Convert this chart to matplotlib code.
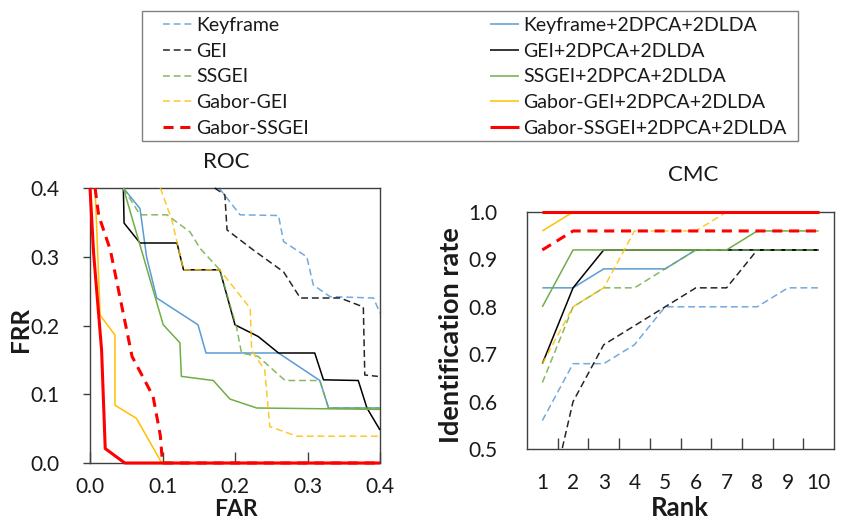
import matplotlib
matplotlib.use("Agg")
import matplotlib.pyplot as plt
from matplotlib.lines import Line2D
from matplotlib.patches import Rectangle

plt.rcParams['font.family'] = ['Lato', 'DejaVu Sans']

# series names (Excel order)
names_base = ['Keyframe', 'GEI', 'SSGEI', 'Gabor-GEI', 'Gabor-SSGEI']
names_full = [n + '+2DPCA+2DLDA' for n in names_base]
colors = ['#5B9BD5', '#000000', '#70AD47', '#FFC000', '#FF0000']

# ROC curves (FAR, FRR)
roc_far_base = [
    [0.178, 0.184, 0.207, 0.260, 0.267, 0.299, 0.308, 0.331, 0.391, 0.400],
    [0.172, 0.186, 0.189, 0.225, 0.267, 0.290, 0.345, 0.377, 0.379, 0.397],
    [0.046, 0.069, 0.106, 0.138, 0.152, 0.179, 0.202, 0.209, 0.232, 0.269, 0.317, 0.329, 0.400],
    [0.097, 0.113, 0.129, 0.179, 0.221, 0.223, 0.241, 0.248, 0.285, 0.400],
    [0.007, 0.012, 0.028, 0.058, 0.087, 0.097, 0.100, 0.400],
]
roc_frr_base = [
    [0.400, 0.392, 0.361, 0.360, 0.322, 0.300, 0.259, 0.242, 0.240, 0.218],
    [0.400, 0.390, 0.339, 0.310, 0.278, 0.240, 0.240, 0.227, 0.128, 0.126],
    [0.400, 0.361, 0.361, 0.336, 0.312, 0.281, 0.198, 0.160, 0.155, 0.120, 0.120, 0.080, 0.080],
    [0.400, 0.353, 0.281, 0.281, 0.225, 0.164, 0.135, 0.053, 0.039, 0.039],
    [0.400, 0.360, 0.310, 0.155, 0.097, 0.040, 0.000, 0.000],
]
roc_far_full = [
    [0.046, 0.069, 0.078, 0.092, 0.149, 0.160, 0.260, 0.317, 0.329, 0.400],
    [0.046, 0.047, 0.069, 0.120, 0.129, 0.179, 0.200, 0.232, 0.260, 0.310, 0.322, 0.370, 0.382, 0.400],
    [0.046, 0.101, 0.124, 0.126, 0.170, 0.193, 0.230, 0.400],
    [0.007, 0.014, 0.0345, 0.0345, 0.064, 0.099],
    [0.000, 0.005, 0.016, 0.021, 0.048, 0.400],
]
roc_frr_full = [
    [0.400, 0.370, 0.300, 0.240, 0.201, 0.160, 0.160, 0.120, 0.080, 0.080],
    [0.400, 0.349, 0.320, 0.320, 0.281, 0.281, 0.201, 0.184, 0.160, 0.160, 0.121, 0.120, 0.080, 0.048],
    [0.400, 0.201, 0.175, 0.126, 0.120, 0.093, 0.080, 0.078],
    [0.400, 0.215, 0.186, 0.084, 0.065, 0.000],
    [0.400, 0.305, 0.164, 0.021, 0.000, 0.000],
]

# CMC curves
ranks = [1, 2, 3, 4, 5, 6, 7, 8, 9, 10]
cmc_base = [
    [0.56, 0.68, 0.68, 0.72, 0.80, 0.80, 0.80, 0.80, 0.84, 0.84],
    [0.32, 0.60, 0.72, 0.76, 0.80, 0.84, 0.84, 0.92, 0.92, 0.92],
    [0.64, 0.80, 0.84, 0.84, 0.88, 0.92, 0.92, 0.92, 0.92, 0.92],
    [0.68, 0.80, 0.84, 0.96, 0.96, 0.96, 1.00, 1.00, 1.00, 1.00],
    [0.92, 0.96, 0.96, 0.96, 0.96, 0.96, 0.96, 0.96, 0.96, 0.96],
]
cmc_full = [
    [0.84, 0.84, 0.88, 0.88, 0.88, 0.92, 0.92, 0.92, 0.92, 0.92],
    [0.68, 0.84, 0.92, 0.92, 0.92, 0.92, 0.92, 0.92, 0.92, 0.92],
    [0.80, 0.92, 0.92, 0.92, 0.92, 0.92, 0.92, 0.96, 0.96, 0.96],
    [0.96, 1.00, 1.00, 1.00, 1.00, 1.00, 1.00, 1.00, 1.00, 1.00],
    [1.00, 1.00, 1.00, 1.00, 1.00, 1.00, 1.00, 1.00, 1.00, 1.00],
]

W, H = 842, 520
fig = plt.figure(figsize=(W / 100, H / 100), dpi=100)

def fx(px):
    return px / W

def fy(py):
    return 1 - py / H

ax1 = fig.add_axes([fx(90), fy(463), fx(380) - fx(90), fy(188) - fy(463)])
ax2 = fig.add_axes([fx(527), fy(449), fx(834) - fx(527), fy(212) - fy(449)])

def style(i, dashed):
    thick = (i == 4)
    lw = 2.2 if thick else 1.1
    kw = dict(color=colors[i], lw=lw, solid_capstyle='butt', dash_capstyle='butt')
    if dashed:
        kw['dashes'] = (3.3, 2.2) if thick else (4.5, 2.5)
        kw['alpha'] = 0.85 if not thick else 1.0
    return kw

# Excel draws series in order: base, full, base, full, ...
for i in range(5):
    ax1.plot(roc_far_base[i], roc_frr_base[i], clip_on=False, zorder=2 + 2 * i, **style(i, True))
    ax1.plot(roc_far_full[i], roc_frr_full[i], clip_on=False, zorder=3 + 2 * i, **style(i, False))
    ax2.plot(ranks, cmc_base[i], clip_on=(i == 1), zorder=2 + 2 * i, **style(i, True))
    ax2.plot(ranks, cmc_full[i], clip_on=False, zorder=3 + 2 * i, **style(i, False))

txt = '#1a1a1a'
for ax in (ax1, ax2):
    for s in ax.spines.values():
        s.set_color('#404040')
        s.set_linewidth(1.0)

ax1.set_xlim(0, 0.4)
ax1.set_ylim(0, 0.4)
ax1.set_xticks([0, 0.1, 0.2, 0.3, 0.4])
ax1.set_yticks([0, 0.1, 0.2, 0.3, 0.4])
ax1.xaxis.set_major_formatter(plt.FormatStrFormatter('%.1f'))
ax1.yaxis.set_major_formatter(plt.FormatStrFormatter('%.1f'))
ax1.tick_params(axis='x', direction='in', length=8, width=1, color='#404040', pad=10,
                labelsize=15, labelcolor=txt)
ax1.tick_params(axis='y', direction='out', length=5, width=1, color='#404040', pad=17,
                labelsize=15, labelcolor=txt)

ax2.set_xlim(0.5, 10.5)
ax2.set_ylim(0.5, 1.0)
ax2.set_xticks(ranks)
ax2.set_xticks([r + 0.5 for r in ranks[:-1]], minor=True)
ax2.set_yticks([0.5, 0.6, 0.7, 0.8, 0.9, 1.0])
ax2.yaxis.set_major_formatter(plt.FormatStrFormatter('%.1f'))
ax2.tick_params(axis='x', which='major', length=0, pad=17, labelsize=15, labelcolor=txt)
ax2.tick_params(axis='x', which='minor', direction='in', length=8, width=1, color='#404040')
ax2.tick_params(axis='y', length=0, pad=21, labelsize=15, labelcolor=txt)

fig.text(fx(226), fy(162), 'ROC', ha='center', va='center', fontsize=16, color=txt)
fig.text(fx(693), fy(175), 'CMC', ha='center', va='center', fontsize=16, color=txt)
fig.text(fx(236), fy(520), 'FAR', ha='center', va='bottom', fontsize=16.5, fontweight='bold', color=txt)
fig.text(fx(21), fy(329), 'FRR', ha='center', va='center', rotation=90, fontsize=17.5,
         fontweight='bold', color=txt)
fig.text(fx(451), fy(335), 'Identification rate', ha='center', va='center', rotation=90,
         fontsize=19.5, fontweight='bold', color=txt)
fig.text(fx(680), fy(520), 'Rank', ha='center', va='bottom', fontsize=18.5, fontweight='bold', color=txt)

# legend: dashed series in the left column, solid ones in the right column
fig.patches.append(Rectangle((fx(142), fy(141)), fx(798) - fx(142), fy(11) - fy(141),
                             transform=fig.transFigure, fill=False, edgecolor='#808080', lw=1.0))
for col, (names, dashed, x0) in enumerate([(names_base, True, 163), (names_full, False, 490)]):
    handles = [Line2D([], [], **style(i, dashed)) for i in range(5)]
    leg = fig.legend(handles, names, loc='upper left', bbox_to_anchor=(fx(x0), fy(17)),
                     fontsize=14, frameon=False, handlelength=1.5, handletextpad=0.2,
                     labelspacing=0.45, borderaxespad=0, borderpad=0)
    for t in leg.get_texts():
        t.set_color(txt)

fig.savefig('out.png', dpi=100)
